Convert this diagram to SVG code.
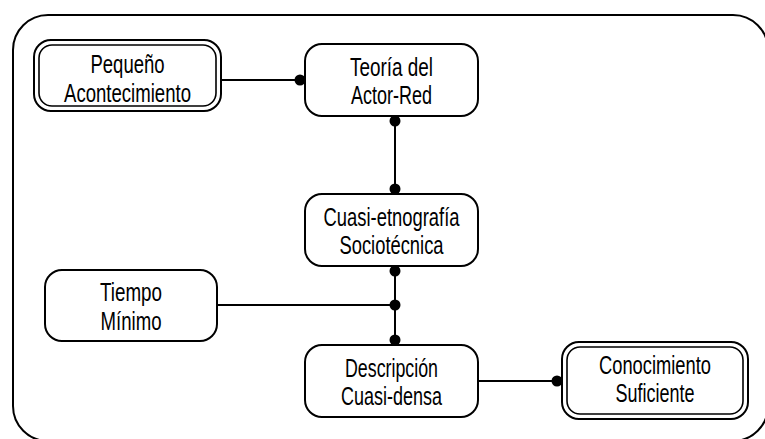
<svg xmlns="http://www.w3.org/2000/svg" width="765" height="439" viewBox="0 0 765 439">
<style>
.frame{fill:none;stroke:#000;stroke-width:2}
.box{fill:#fff;stroke:#000;stroke-width:2}
.inner{fill:none;stroke:#000;stroke-width:1.6}
.lbl{font-family:"Liberation Sans",Arial,sans-serif;font-size:26px;fill:#000;text-anchor:middle}
.con{stroke:#000;stroke-width:2;fill:none}
.dot{fill:#000}
</style>
<rect x="0" y="0" width="765" height="439" fill="#fff"/>
<rect class="frame" x="13" y="15" width="755" height="426" rx="35" ry="35"/>
<g id="connectors">
  <line class="con" x1="221" y1="80" x2="305" y2="80"/>
  <circle class="dot" cx="300" cy="80" r="5.5"/>
  <line class="con" x1="395" y1="116" x2="395" y2="194"/>
  <circle class="dot" cx="395" cy="121" r="5.5"/>
  <circle class="dot" cx="395" cy="189" r="5.5"/>
  <line class="con" x1="395" y1="266" x2="395" y2="345"/>
  <circle class="dot" cx="395" cy="271" r="5.5"/>
  <line class="con" x1="217" y1="305" x2="395" y2="305"/>
  <circle class="dot" cx="395" cy="305" r="5.5"/>
  <circle class="dot" cx="395" cy="340" r="5.5"/>
  <line class="con" x1="478" y1="381" x2="562" y2="381"/>
  <circle class="dot" cx="557" cy="381" r="5.5"/>
</g>
<g id="pequeno">
  <rect class="box" x="34" y="40" width="187" height="71" rx="17"/>
  <rect class="inner" x="39" y="45" width="177" height="61" rx="13"/>
  <text class="lbl" x="127.5" y="73" textLength="74" lengthAdjust="spacingAndGlyphs">Pequeño</text>
  <text class="lbl" x="127.5" y="102" textLength="127" lengthAdjust="spacingAndGlyphs">Acontecimiento</text>
</g>
<g id="teoria">
  <rect class="box" x="305" y="44" width="173" height="72" rx="17"/>
  <text class="lbl" x="391.5" y="76" textLength="83" lengthAdjust="spacingAndGlyphs">Teoría del</text>
  <text class="lbl" x="391.5" y="104" textLength="81" lengthAdjust="spacingAndGlyphs">Actor-Red</text>
</g>
<g id="cuasi-etnografia">
  <rect class="box" x="305" y="194" width="173" height="72" rx="17"/>
  <text class="lbl" x="391.5" y="226" textLength="136" lengthAdjust="spacingAndGlyphs">Cuasi-etnografía</text>
  <text class="lbl" x="391.5" y="254" textLength="104" lengthAdjust="spacingAndGlyphs">Sociotécnica</text>
</g>
<g id="tiempo">
  <rect class="box" x="45" y="270" width="172" height="71" rx="17"/>
  <text class="lbl" x="131" y="301" textLength="62" lengthAdjust="spacingAndGlyphs">Tiempo</text>
  <text class="lbl" x="131" y="330" textLength="61" lengthAdjust="spacingAndGlyphs">Mínimo</text>
</g>
<g id="descripcion">
  <rect class="box" x="305" y="345" width="173" height="72" rx="17"/>
  <text class="lbl" x="391.5" y="377" textLength="93" lengthAdjust="spacingAndGlyphs">Descripción</text>
  <text class="lbl" x="391.5" y="405" textLength="101" lengthAdjust="spacingAndGlyphs">Cuasi-densa</text>
</g>
<g id="conocimiento">
  <rect class="box" x="562" y="342" width="186" height="77" rx="17"/>
  <rect class="inner" x="567" y="347" width="176" height="67" rx="13"/>
  <text class="lbl" x="655" y="374" textLength="112" lengthAdjust="spacingAndGlyphs">Conocimiento</text>
  <text class="lbl" x="655" y="402" textLength="79" lengthAdjust="spacingAndGlyphs">Suficiente</text>
</g>
</svg>
